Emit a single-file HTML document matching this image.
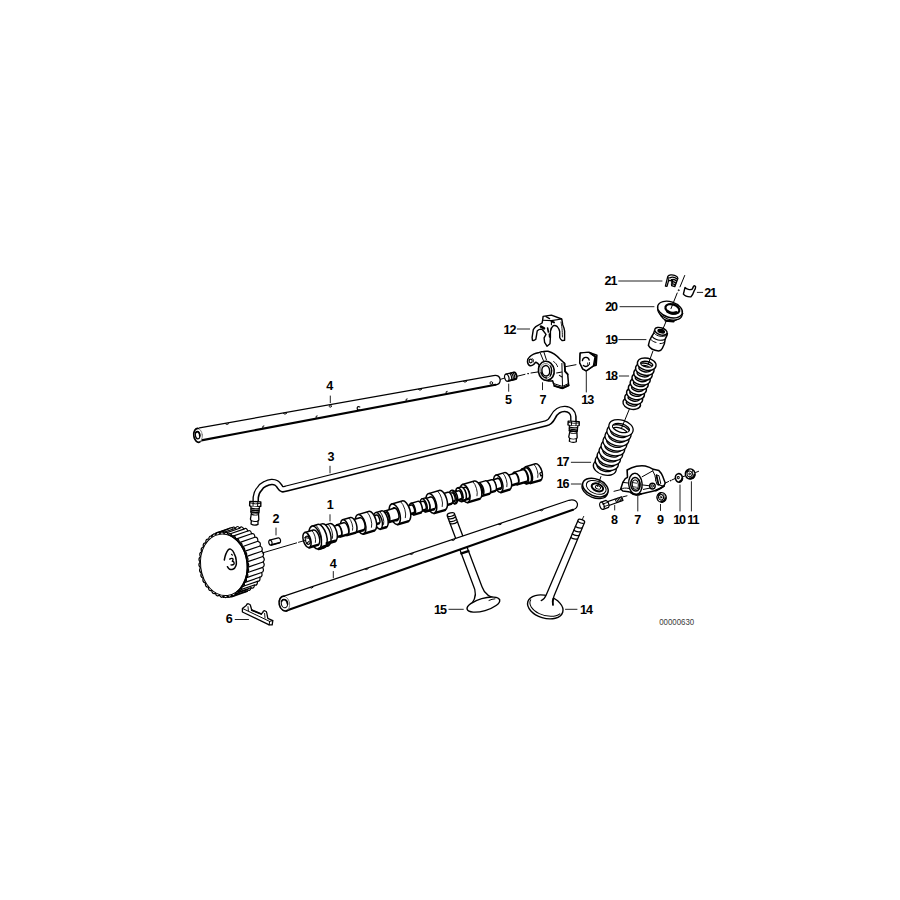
<!DOCTYPE html>
<html><head><meta charset="utf-8"><title>diagram</title>
<style>
html,body{margin:0;padding:0;background:#fff;}
svg{display:block;}
text{font-family:"Liberation Sans",sans-serif;font-weight:bold;font-size:12.6px;fill:#000;}
</style></head><body>
<svg width="900" height="900" viewBox="0 0 900 900" stroke="#000" fill="none" stroke-linecap="round" stroke-linejoin="round">
<rect x="0" y="0" width="900" height="900" fill="#fff" stroke="none"/>
<path d="M 199.0 427.7 L 493.5 375.6 Q 499.6 374.6 500.2 379.6 Q 500.4 384.4 495.5 384.8 L 200.0 440.6 Z" stroke-width="0" fill="#fff" stroke="none"/>
<path d="M 199.5 427.9 L 493.5 375.6 Q 499.6 374.6 500.2 379.6 Q 500.4 384.4 495.5 384.8" stroke-width="1.3" fill="none" />
<path d="M 495.5 384.8 L 200.0 440.6" stroke-width="2.1" fill="none" />
<ellipse cx="197.9" cy="435.3" rx="4.4" ry="7.0" transform="rotate(-6 197.9 435.3)" stroke-width="0.9" fill="#fff" stroke="#777"/>
<g transform="translate(197.9 435.3) rotate(-6)"><path d="M 1.2 -6.8 A 4.4 7 0 1 0 1.4 6.8" stroke-width="1.6"/></g>
<ellipse cx="197.6" cy="435.2" rx="2.2" ry="3.6" transform="rotate(-6 197.6 435.2)" stroke-width="1.2" fill="none" />
<g transform="translate(197.6 435.2) rotate(-6)"><path d="M -1.4 -2.8 A 2.2 3.6 0 0 1 2.1 1" stroke-width="1.7"/></g>
<path d="M 225.4 423.8 q 1.5 1.6 3.2 0" stroke-width="1.0" fill="none" />
<path d="M 283.4 413.5 q 1.5 1.6 3.2 0" stroke-width="1.0" fill="none" />
<path d="M 418.4 389.5 q 1.5 1.6 3.2 0" stroke-width="1.0" fill="none" />
<path d="M 463.4 381.5 q 1.5 1.6 3.2 0" stroke-width="1.0" fill="none" />
<ellipse cx="330.3" cy="406.2" rx="1.1" ry="1.1" transform="rotate(0 330.3 406.2)" stroke-width="0.8" fill="none" />
<path d="M 262.7 427.6 q -0.5 -2 1.2 -1.8" stroke-width="1.0" fill="none" />
<path d="M 316.0 417.6 q -0.5 -2 1.2 -1.8" stroke-width="1.0" fill="none" />
<path d="M 406.0 400.6 q -0.5 -2 1.2 -1.8" stroke-width="1.0" fill="none" />
<path d="M 446.0 393.1 q -0.5 -2 1.2 -1.8" stroke-width="1.0" fill="none" />
<path d="M 359.8 407.0 q -2.8 -1.2 -2.6 1.6 q 0.3 2 2.6 1.2" stroke-width="1.2" fill="none" />
<ellipse cx="491.3" cy="383.0" rx="1.3" ry="1.4" transform="rotate(0 491.3 383.0)" stroke-width="0.9" fill="none" />
<path d="M 255.7 502 L 255.8 497.5 C 256.5 493 257.5 491 259.2 489.4 C 261 486.5 263 485 265 484.1 C 267.5 482.8 269.5 482.2 271.6 482 C 273.8 481.9 275 482.2 276.3 483 C 278 484 278.8 485.4 279.7 486.6 C 280.6 488 281 489 282.4 489.3 C 283.6 489.6 285 489.1 286.6 488.6 L 546 423.4 C 550 422.4 551.5 420 553 417 C 554.5 414 556 412.2 558 411 C 560.5 409.3 562.8 408.9 565 409 C 567.5 409.1 569.6 409.9 571 411.3 C 572.8 413 573.2 414.6 573.4 416.5 L 573.5 423" stroke-width="6.6" stroke-linecap="butt"/>
<path d="M 255.7 502 L 255.8 497.5 C 256.5 493 257.5 491 259.2 489.4 C 261 486.5 263 485 265 484.1 C 267.5 482.8 269.5 482.2 271.6 482 C 273.8 481.9 275 482.2 276.3 483 C 278 484 278.8 485.4 279.7 486.6 C 280.6 488 281 489 282.4 489.3 C 283.6 489.6 285 489.1 286.6 488.6 L 546 423.4 C 550 422.4 551.5 420 553 417 C 554.5 414 556 412.2 558 411 C 560.5 409.3 562.8 408.9 565 409 C 567.5 409.1 569.6 409.9 571 411.3 C 572.8 413 573.2 414.6 573.4 416.5 L 573.5 423" stroke="#fff" stroke-width="3.7" stroke-linecap="butt" transform="translate(-0.1 -0.2)"/>
<g transform="translate(255.4 501.6) rotate(2.5) scale(1 0.96)">
<path d="M -5.6 0.0 L 5.4 0.0 L 5.6 4.6 Q 0.0 6.6 -5.6 4.6 Z" stroke-width="1.4" fill="#fff" />
<line x1="-2.2" y1="0.5" x2="-2.2" y2="5.0" stroke-width="1.0" />
<line x1="2.4" y1="0.5" x2="2.4" y2="5.0" stroke-width="1.0" />
<path d="M -5.4 1.6 Q 0.0 3.2 5.4 1.6" stroke-width="0.9" fill="none" />
<path d="M -4.2 5.4 L -4.0 11.6 L 4.0 11.6 L 4.2 5.4" stroke-width="1.2" fill="#fff" />
<path d="M -4.1 7.0 Q 0.0 8.4 4.1 7.0" stroke-width="1.3" fill="none" />
<path d="M -4.1 8.8 Q 0.0 10.2 4.1 8.8" stroke-width="1.3" fill="none" />
<path d="M -4.1 10.6 Q 0.0 12.0 4.1 10.6" stroke-width="1.3" fill="none" />
<path d="M -3.4 11.8 L -4.2 18.5 Q -4.0 19.5 -3.2 20.0 L -3.4 23.6 Q 0.0 25.6 3.6 23.6 L 3.4 20.0 Q 4.2 19.5 4.2 18.5 L 3.6 11.8 Z" stroke-width="1.3" fill="#fff" />
<path d="M -3.2 20.0 Q 0.0 21.4 3.4 20.0" stroke-width="1.0" fill="none" />
<path d="M -3.6 13.4 Q 0.0 14.8 3.6 13.4" stroke-width="1.0" fill="none" />
</g>
<g transform="translate(573.8 421.3) rotate(3) scale(1 0.86)">
<path d="M -5.6 0.0 L 5.4 0.0 L 5.6 4.6 Q 0.0 6.6 -5.6 4.6 Z" stroke-width="1.4" fill="#fff" />
<line x1="-2.2" y1="0.5" x2="-2.2" y2="5.0" stroke-width="1.0" />
<line x1="2.4" y1="0.5" x2="2.4" y2="5.0" stroke-width="1.0" />
<path d="M -5.4 1.6 Q 0.0 3.2 5.4 1.6" stroke-width="0.9" fill="none" />
<path d="M -4.2 5.4 L -4.0 11.6 L 4.0 11.6 L 4.2 5.4" stroke-width="1.2" fill="#fff" />
<path d="M -4.1 7.0 Q 0.0 8.4 4.1 7.0" stroke-width="1.3" fill="none" />
<path d="M -4.1 8.8 Q 0.0 10.2 4.1 8.8" stroke-width="1.3" fill="none" />
<path d="M -4.1 10.6 Q 0.0 12.0 4.1 10.6" stroke-width="1.3" fill="none" />
<path d="M -3.4 11.8 L -4.2 18.5 Q -4.0 19.5 -3.2 20.0 L -3.4 23.6 Q 0.0 25.6 3.6 23.6 L 3.4 20.0 Q 4.2 19.5 4.2 18.5 L 3.6 11.8 Z" stroke-width="1.3" fill="#fff" />
<path d="M -3.2 20.0 Q 0.0 21.4 3.4 20.0" stroke-width="1.0" fill="none" />
<path d="M -3.6 13.4 Q 0.0 14.8 3.6 13.4" stroke-width="1.0" fill="none" />
</g>
<path d="M 262.8 556.5 Q 265.6 559.2 263.1 562.0 Q 265.5 565.2 262.7 567.4 Q 264.6 571.1 261.6 572.5 Q 263.0 576.5 259.8 577.2 Q 260.7 581.5 257.4 581.4 Q 257.7 585.8 254.4 585.0 Q 254.2 589.3 251.0 587.7 Q 250.2 591.8 247.2 589.6 Q 245.9 593.4 243.2 590.6 Q 241.4 594.0 239.1 590.6 Q 236.8 593.5 235.0 589.7 Q 232.3 592.0 231.0 587.8 Q 228.0 589.4 227.3 585.1 Q 224.1 586.0 223.9 581.6 Q 220.6 581.8 221.0 577.5 Q 217.7 576.8 218.7 572.8 Q 215.5 571.4 217.0 567.6 Q 214.0 565.6 216.0 562.3 Q 213.2 559.6 215.7 556.8 Q 213.3 553.6 216.1 551.4 Q 214.2 547.7 217.2 546.3 Q 215.8 542.3 219.0 541.6 Q 218.1 537.3 221.4 537.4 Q 221.1 533.0 224.4 533.8 Q 224.6 529.5 227.8 531.1 Q 228.6 527.0 231.6 529.2 Q 232.9 525.4 235.6 528.2 Q 237.4 524.8 239.7 528.2 Q 242.0 525.3 243.8 529.1 Q 246.5 526.8 247.8 531.0 Q 250.8 529.4 251.5 533.7 Q 254.7 532.8 254.9 537.2 Q 258.2 537.0 257.8 541.3 Q 261.1 542.0 260.1 546.0 Q 263.3 547.4 261.8 551.2 Q 264.8 553.2 262.8 556.5 Z" stroke-width="1.2" fill="#fff" />
<path d="M 216.0 533.0 L 231.6 527.6 L 247.2 591.2 L 231.6 596.6 Z" stroke-width="0" fill="#fff" stroke="none"/>
<line x1="220.0" y1="533.6" x2="235.6" y2="528.2" stroke-width="1.2" />
<line x1="224.1" y1="533.6" x2="239.7" y2="528.2" stroke-width="1.2" />
<line x1="228.2" y1="534.5" x2="243.8" y2="529.1" stroke-width="1.2" />
<line x1="232.2" y1="536.4" x2="247.8" y2="531.0" stroke-width="1.2" />
<line x1="235.9" y1="539.1" x2="251.5" y2="533.7" stroke-width="1.2" />
<line x1="239.3" y1="542.6" x2="254.9" y2="537.2" stroke-width="1.2" />
<line x1="242.2" y1="546.7" x2="257.8" y2="541.3" stroke-width="1.2" />
<line x1="244.5" y1="551.4" x2="260.1" y2="546.0" stroke-width="1.2" />
<line x1="246.2" y1="556.6" x2="261.8" y2="551.2" stroke-width="1.2" />
<line x1="247.2" y1="561.9" x2="262.8" y2="556.5" stroke-width="1.2" />
<line x1="247.5" y1="567.4" x2="263.1" y2="562.0" stroke-width="1.2" />
<line x1="247.1" y1="572.8" x2="262.7" y2="567.4" stroke-width="1.2" />
<line x1="246.0" y1="577.9" x2="261.6" y2="572.5" stroke-width="1.2" />
<line x1="244.2" y1="582.6" x2="259.8" y2="577.2" stroke-width="1.2" />
<line x1="241.8" y1="586.8" x2="257.4" y2="581.4" stroke-width="1.2" />
<line x1="238.8" y1="590.4" x2="254.4" y2="585.0" stroke-width="1.2" />
<line x1="235.4" y1="593.1" x2="251.0" y2="587.7" stroke-width="1.2" />
<line x1="231.6" y1="595.0" x2="247.2" y2="589.6" stroke-width="1.2" />
<line x1="216.0" y1="533.0" x2="231.6" y2="527.6" stroke-width="1.3" />
<line x1="231.6" y1="596.6" x2="247.2" y2="591.2" stroke-width="1.8" />
<line x1="211.7" y1="535.4" x2="224.2" y2="531.0" stroke-width="1.5" />
<line x1="215.7" y1="533.4" x2="228.1" y2="529.1" stroke-width="1.5" />
<line x1="227.8" y1="597.2" x2="236.4" y2="594.2" stroke-width="1.6" />
<line x1="223.5" y1="597.2" x2="232.1" y2="594.3" stroke-width="1.6" />
<path d="M 247.2 561.9 Q 250.0 564.6 247.5 567.4 Q 249.9 570.6 247.1 572.8 Q 249.0 576.5 246.0 577.9 Q 247.4 581.9 244.2 582.6 Q 245.1 586.9 241.8 586.8 Q 242.1 591.2 238.8 590.4 Q 238.6 594.7 235.4 593.1 Q 234.6 597.2 231.6 595.0 Q 230.3 598.8 227.6 596.0 Q 225.8 599.4 223.5 596.0 Q 221.2 598.9 219.4 595.1 Q 216.7 597.4 215.4 593.2 Q 212.4 594.8 211.7 590.5 Q 208.5 591.4 208.3 587.0 Q 205.0 587.2 205.4 582.9 Q 202.1 582.2 203.1 578.2 Q 199.9 576.8 201.4 573.0 Q 198.4 571.0 200.4 567.7 Q 197.6 565.0 200.1 562.2 Q 197.7 559.0 200.5 556.8 Q 198.6 553.1 201.6 551.7 Q 200.2 547.7 203.4 547.0 Q 202.5 542.7 205.8 542.8 Q 205.5 538.4 208.8 539.2 Q 209.0 534.9 212.2 536.5 Q 213.0 532.4 216.0 534.6 Q 217.3 530.8 220.0 533.6 Q 221.8 530.2 224.1 533.6 Q 226.4 530.7 228.2 534.5 Q 230.9 532.2 232.2 536.4 Q 235.2 534.8 235.9 539.1 Q 239.1 538.2 239.3 542.6 Q 242.6 542.4 242.2 546.7 Q 245.5 547.4 244.5 551.4 Q 247.7 552.8 246.2 556.6 Q 249.2 558.6 247.2 561.9 Z" stroke-width="1.25" fill="#fff" />
<ellipse cx="223.8" cy="564.8" rx="23.2" ry="30.9" transform="rotate(-7.0 223.8 564.8)" stroke-width="1.0"/>
<path d="M 224.3 560 C 225 556 226.4 552 228.3 549.8 C 229 549 229.9 548.9 230.6 549.1 C 232.4 549.8 233.4 551.4 234.1 553.3 C 235.4 555.6 236.1 558 236.3 560.9 C 236.5 562.8 236.4 564.4 235.9 565.8 C 235.3 567.7 234.2 568.8 232.8 569.3 C 231.7 569.7 230.6 569.7 229.7 569.3 C 228.7 568.7 228 567.8 227.4 566.7" stroke-width="1.5" fill="none" />
<path d="M 229.7 559.1 C 230.8 558.4 232 558.2 232.8 558.7 C 233.4 559.6 233 560.6 232.3 561.3 C 233.3 561.5 234 562 234.1 562.7 C 234.3 563.5 234.1 564 233.7 564.4 C 232.9 565 231.9 565.1 231 564.9" stroke-width="1.4" fill="none" />
<path d="M 231.5 554.3 L 232.4 555.1" stroke-width="1.2" fill="none" />
<path d="M 229.9 535.2 L 231.0 535.7 L 232.1 536.3 L 233.2 537.0 L 234.3 537.8 L 235.4 538.6 L 236.4 539.5 L 237.4 540.4 L 238.3 541.5 L 239.3 542.5 L 240.1 543.6 L 241.0 544.8 L 241.8 546.1 L 242.5 547.3 L 243.2 548.7 L 243.9 550.0 L 244.5 551.4 L 245.0 552.8 L 245.5 554.3 L 246.0 555.8 L 246.4 557.3 L 246.7 558.8 L 247.0 560.4 L 247.2 561.9 L 247.4 563.5 L 247.5 565.0 L 247.5 566.6 L 247.5 568.2 L 247.4 569.7 L 247.3 571.3 L 247.1 572.8 L 246.9 574.3 L 246.6 575.8 L 246.2 577.2 L 245.8 578.6 L 245.3 580.0 L 244.8 581.4 L 244.2 582.7 L 243.5 583.9 L 242.9 585.2 L 242.1 586.3 L 241.4 587.4 L 240.5 588.5 L 239.7 589.5 L 238.8 590.4 L 237.8 591.3 L 236.9 592.1" stroke-width="1.6"/>
<g transform="translate(307 540) rotate(-16.4)">
<path d="M 230.4 -8.6 L 240.7 -8.6 A 4.02 8.55 0 0 1 240.7 8.6 L 230.4 8.6 Z" stroke-width="0" fill="#fff" stroke="none"/>
<path d="M 230.4 -8.6 L 240.7 -8.6 A 4.02 8.55 0 0 1 240.7 8.6" stroke-width="1.5" fill="none" />
<path d="M 240.7 8.6 L 230.4 8.6" stroke-width="2.4" fill="none" />
<path d="M 239.1 -8.3 A 4.02 8.55 0 0 1 239.1 5.1" stroke-width="0.8" fill="none" />
<ellipse cx="230.4" cy="0.0" rx="4.02" ry="8.55" stroke-width="1.5" fill="#fff"/>
<ellipse cx="230.8" cy="0.0" rx="2.58" ry="5.50" stroke-width="1.0"/>
<path d="M 228.3 -1.0 A 2.58 5.50 0 0 0 231.0 5.5" stroke-width="2.0" fill="none" />
<path d="M 229.8 -5.6 L 231.0 -5.6 A 2.63 5.60 0 0 1 231.0 5.6 L 229.8 5.6 Z" stroke-width="0" fill="#fff" stroke="none"/>
<path d="M 229.8 -5.6 L 231.0 -5.6 A 2.63 5.60 0 0 1 231.0 5.6" stroke-width="1.5" fill="none" />
<path d="M 231.0 5.6 L 229.8 5.6" stroke-width="2.4" fill="none" />
<ellipse cx="229.8" cy="0.0" rx="2.63" ry="5.60" stroke-width="1.5" fill="#fff"/>
<path d="M 226.6 -7.5 L 229.8 -7.5 A 3.62 7.70 0 0 1 229.8 7.9 L 226.6 7.9 Z" stroke-width="0" fill="#fff" stroke="none"/>
<path d="M 226.6 -7.5 L 229.8 -7.5 A 3.62 7.70 0 0 1 229.8 7.9" stroke-width="1.5" fill="none" />
<path d="M 229.8 7.9 L 226.6 7.9" stroke-width="2.4" fill="none" />
<ellipse cx="226.6" cy="0.2" rx="3.62" ry="7.70" stroke-width="1.5" fill="#fff"/>
<path d="M 217.5 -6.5 L 226.6 -6.5 A 2.96 6.30 0 0 1 226.6 6.1 L 217.5 6.1 Z" stroke-width="0" fill="#fff" stroke="none"/>
<path d="M 217.5 -6.5 L 226.6 -6.5 A 2.96 6.30 0 0 1 226.6 6.1" stroke-width="1.5" fill="none" />
<path d="M 226.6 6.1 L 217.5 6.1" stroke-width="2.4" fill="none" />
<ellipse cx="217.5" cy="-0.2" rx="2.96" ry="6.30" stroke-width="1.5" fill="#fff"/>
<path d="M 208.4 -5.4 L 217.5 -5.4 A 2.54 5.40 0 0 1 217.5 5.4 L 208.4 5.4 Z" stroke-width="0" fill="#fff" stroke="none"/>
<path d="M 208.4 -5.4 L 217.5 -5.4 A 2.54 5.40 0 0 1 217.5 5.4" stroke-width="1.5" fill="none" />
<path d="M 217.5 5.4 L 208.4 5.4" stroke-width="2.4" fill="none" />
<ellipse cx="208.4" cy="0.0" rx="2.54" ry="5.40" stroke-width="1.5" fill="#fff"/>
<path d="M 199.4 -8.9 L 208.4 -8.9 A 4.18 8.90 0 0 1 208.4 8.9 L 199.4 8.9 Z" stroke-width="0" fill="#fff" stroke="none"/>
<path d="M 199.4 -8.9 L 208.4 -8.9 A 4.18 8.90 0 0 1 208.4 8.9" stroke-width="1.5" fill="none" />
<path d="M 208.4 8.9 L 199.4 8.9" stroke-width="2.4" fill="none" />
<path d="M 206.8 -8.6 A 4.18 8.90 0 0 1 206.8 5.3" stroke-width="0.8" fill="none" />
<ellipse cx="199.4" cy="0.0" rx="4.18" ry="8.90" stroke-width="1.5" fill="#fff"/>
<ellipse cx="199.8" cy="0.0" rx="2.68" ry="5.70" stroke-width="1.0"/>
<path d="M 197.3 -1.0 A 2.68 5.70 0 0 0 200.0 5.7" stroke-width="2.0" fill="none" />
<path d="M 194.0 -5.2 L 200.0 -5.2 A 2.44 5.20 0 0 1 200.0 5.2 L 194.0 5.2 Z" stroke-width="0" fill="#fff" stroke="none"/>
<path d="M 194.0 -5.2 L 200.0 -5.2 A 2.44 5.20 0 0 1 200.0 5.2" stroke-width="1.5" fill="none" />
<path d="M 200.0 5.2 L 194.0 5.2" stroke-width="2.4" fill="none" />
<ellipse cx="194.0" cy="0.0" rx="2.44" ry="5.20" stroke-width="1.5" fill="#fff"/>
<path d="M 187.7 -5.7 L 194.0 -5.7 A 2.77 5.90 0 0 1 194.0 6.1 L 187.7 6.1 Z" stroke-width="0" fill="#fff" stroke="none"/>
<path d="M 187.7 -5.7 L 194.0 -5.7 A 2.77 5.90 0 0 1 194.0 6.1" stroke-width="1.5" fill="none" />
<path d="M 194.0 6.1 L 187.7 6.1" stroke-width="2.4" fill="none" />
<ellipse cx="187.7" cy="0.2" rx="2.77" ry="5.90" stroke-width="1.5" fill="#fff"/>
<path d="M 180.5 -6.4 L 187.7 -6.4 A 3.20 6.80 0 0 1 187.7 7.2 L 180.5 7.2 Z" stroke-width="0" fill="#fff" stroke="none"/>
<path d="M 180.5 -6.4 L 187.7 -6.4 A 3.20 6.80 0 0 1 187.7 7.2" stroke-width="1.5" fill="none" />
<path d="M 187.7 7.2 L 180.5 7.2" stroke-width="2.4" fill="none" />
<ellipse cx="180.5" cy="0.4" rx="3.20" ry="6.80" stroke-width="1.5" fill="#fff"/>
<path d="M 177.0 -4.4 L 180.5 -4.4 A 2.07 4.40 0 0 1 180.5 4.4 L 177.0 4.4 Z" stroke-width="0" fill="#fff" stroke="none"/>
<path d="M 177.0 -4.4 L 180.5 -4.4 A 2.07 4.40 0 0 1 180.5 4.4" stroke-width="1.5" fill="none" />
<path d="M 180.5 4.4 L 177.0 4.4" stroke-width="2.4" fill="none" />
<ellipse cx="177.0" cy="0.0" rx="2.07" ry="4.40" stroke-width="1.5" fill="#fff"/>
<path d="M 164.8 -9.3 L 177.2 -9.3 A 4.37 9.30 0 0 1 177.2 9.3 L 164.8 9.3 Z" stroke-width="0" fill="#fff" stroke="none"/>
<path d="M 164.8 -9.3 L 177.2 -9.3 A 4.37 9.30 0 0 1 177.2 9.3" stroke-width="1.5" fill="none" />
<path d="M 177.2 9.3 L 164.8 9.3" stroke-width="2.4" fill="none" />
<path d="M 175.6 -9.0 A 4.37 9.30 0 0 1 175.6 5.6" stroke-width="0.8" fill="none" />
<ellipse cx="164.8" cy="0.0" rx="4.37" ry="9.30" stroke-width="1.5" fill="#fff"/>
<ellipse cx="165.2" cy="0.0" rx="2.82" ry="6.00" stroke-width="1.0"/>
<path d="M 162.5 -1.0 A 2.82 6.00 0 0 0 165.4 6.0" stroke-width="2.0" fill="none" />
<path d="M 162.5 -6.0 L 166.0 -6.0 A 2.82 6.00 0 0 1 166.0 6.0 L 162.5 6.0 Z" stroke-width="0" fill="#fff" stroke="none"/>
<path d="M 162.5 -6.0 L 166.0 -6.0 A 2.82 6.00 0 0 1 166.0 6.0" stroke-width="1.5" fill="none" />
<path d="M 166.0 6.0 L 162.5 6.0" stroke-width="2.4" fill="none" />
<ellipse cx="162.5" cy="0.0" rx="2.82" ry="6.00" stroke-width="1.5" fill="#fff"/>
<path d="M 159.0 -7.4 L 162.5 -7.4 A 3.24 6.90 0 0 1 162.5 6.4 L 159.0 6.4 Z" stroke-width="0" fill="#fff" stroke="none"/>
<path d="M 159.0 -7.4 L 162.5 -7.4 A 3.24 6.90 0 0 1 162.5 6.4" stroke-width="1.5" fill="none" />
<path d="M 162.5 6.4 L 159.0 6.4" stroke-width="2.4" fill="none" />
<ellipse cx="159.0" cy="-0.5" rx="3.24" ry="6.90" stroke-width="1.5" fill="#fff"/>
<path d="M 157.1 -5.7 L 161.9 3.3" stroke-width="1.3" fill="none" />
<path d="M 153.4 -4.4 L 159.0 -4.4 A 2.07 4.40 0 0 1 159.0 4.4 L 153.4 4.4 Z" stroke-width="0" fill="#fff" stroke="none"/>
<path d="M 153.4 -4.4 L 159.0 -4.4 A 2.07 4.40 0 0 1 159.0 4.4" stroke-width="1.5" fill="none" />
<path d="M 159.0 4.4 L 153.4 4.4" stroke-width="2.4" fill="none" />
<ellipse cx="153.4" cy="0.0" rx="2.07" ry="4.40" stroke-width="1.5" fill="#fff"/>
<path d="M 152.0 -6.7 L 153.4 -6.7 A 3.15 6.70 0 0 1 153.4 6.7 L 152.0 6.7 Z" stroke-width="0" fill="#fff" stroke="none"/>
<path d="M 152.0 -6.7 L 153.4 -6.7 A 3.15 6.70 0 0 1 153.4 6.7" stroke-width="1.5" fill="none" />
<path d="M 153.4 6.7 L 152.0 6.7" stroke-width="2.4" fill="none" />
<ellipse cx="152.0" cy="0.0" rx="3.15" ry="6.70" stroke-width="1.5" fill="#fff"/>
<path d="M 148.5 -4.4 L 152.0 -4.4 A 2.07 4.40 0 0 1 152.0 4.4 L 148.5 4.4 Z" stroke-width="0" fill="#fff" stroke="none"/>
<path d="M 148.5 -4.4 L 152.0 -4.4 A 2.07 4.40 0 0 1 152.0 4.4" stroke-width="1.5" fill="none" />
<path d="M 152.0 4.4 L 148.5 4.4" stroke-width="2.4" fill="none" />
<ellipse cx="148.5" cy="0.0" rx="2.07" ry="4.40" stroke-width="1.5" fill="#fff"/>
<path d="M 140.8 -6.0 L 148.5 -6.0 A 2.82 6.00 0 0 1 148.5 6.0 L 140.8 6.0 Z" stroke-width="0" fill="#fff" stroke="none"/>
<path d="M 140.8 -6.0 L 148.5 -6.0 A 2.82 6.00 0 0 1 148.5 6.0" stroke-width="1.5" fill="none" />
<path d="M 148.5 6.0 L 140.8 6.0" stroke-width="2.4" fill="none" />
<ellipse cx="140.8" cy="0.0" rx="2.82" ry="6.00" stroke-width="1.5" fill="#fff"/>
<path d="M 129.6 -10.2 L 140.8 -10.2 A 4.79 10.20 0 0 1 140.8 10.2 L 129.6 10.2 Z" stroke-width="0" fill="#fff" stroke="none"/>
<path d="M 129.6 -10.2 L 140.8 -10.2 A 4.79 10.20 0 0 1 140.8 10.2" stroke-width="1.5" fill="none" />
<path d="M 140.8 10.2 L 129.6 10.2" stroke-width="2.4" fill="none" />
<path d="M 139.2 -9.9 A 4.79 10.20 0 0 1 139.2 6.1" stroke-width="0.8" fill="none" />
<ellipse cx="129.6" cy="0.0" rx="4.79" ry="10.20" stroke-width="1.5" fill="#fff"/>
<ellipse cx="130.0" cy="0.0" rx="3.05" ry="6.50" stroke-width="1.0"/>
<path d="M 127.1 -1.0 A 3.05 6.50 0 0 0 130.2 6.5" stroke-width="2.0" fill="none" />
<path d="M 124.6 -6.3 L 130.5 -6.3 A 2.96 6.30 0 0 1 130.5 6.3 L 124.6 6.3 Z" stroke-width="0" fill="#fff" stroke="none"/>
<path d="M 124.6 -6.3 L 130.5 -6.3 A 2.96 6.30 0 0 1 130.5 6.3" stroke-width="1.5" fill="none" />
<path d="M 130.5 6.3 L 124.6 6.3" stroke-width="2.4" fill="none" />
<ellipse cx="124.6" cy="0.0" rx="2.96" ry="6.30" stroke-width="1.5" fill="#fff"/>
<path d="M 121.8 -7.0 L 124.6 -7.0 A 3.10 6.60 0 0 1 124.6 6.2 L 121.8 6.2 Z" stroke-width="0" fill="#fff" stroke="none"/>
<path d="M 121.8 -7.0 L 124.6 -7.0 A 3.10 6.60 0 0 1 124.6 6.2" stroke-width="1.5" fill="none" />
<path d="M 124.6 6.2 L 121.8 6.2" stroke-width="2.4" fill="none" />
<ellipse cx="121.8" cy="-0.4" rx="3.10" ry="6.60" stroke-width="1.5" fill="#fff"/>
<path d="M 117.0 -4.4 L 121.8 -4.4 A 2.07 4.40 0 0 1 121.8 4.4 L 117.0 4.4 Z" stroke-width="0" fill="#fff" stroke="none"/>
<path d="M 117.0 -4.4 L 121.8 -4.4 A 2.07 4.40 0 0 1 121.8 4.4" stroke-width="1.5" fill="none" />
<path d="M 121.8 4.4 L 117.0 4.4" stroke-width="2.4" fill="none" />
<ellipse cx="117.0" cy="0.0" rx="2.07" ry="4.40" stroke-width="1.5" fill="#fff"/>
<path d="M 109.8 -5.8 L 117.0 -5.8 A 2.73 5.80 0 0 1 117.0 5.8 L 109.8 5.8 Z" stroke-width="0" fill="#fff" stroke="none"/>
<path d="M 109.8 -5.8 L 117.0 -5.8 A 2.73 5.80 0 0 1 117.0 5.8" stroke-width="1.5" fill="none" />
<path d="M 117.0 5.8 L 109.8 5.8" stroke-width="2.4" fill="none" />
<ellipse cx="109.8" cy="0.0" rx="2.73" ry="5.80" stroke-width="1.5" fill="#fff"/>
<path d="M 102.3 -4.2 L 109.8 -4.2 A 1.97 4.20 0 0 1 109.8 4.2 L 102.3 4.2 Z" stroke-width="0" fill="#fff" stroke="none"/>
<path d="M 102.3 -4.2 L 109.8 -4.2 A 1.97 4.20 0 0 1 109.8 4.2" stroke-width="1.5" fill="none" />
<path d="M 109.8 4.2 L 102.3 4.2" stroke-width="2.4" fill="none" />
<ellipse cx="102.3" cy="0.0" rx="1.97" ry="4.20" stroke-width="1.5" fill="#fff"/>
<path d="M 91.5 -10.6 L 102.3 -10.6 A 4.98 10.60 0 0 1 102.3 10.6 L 91.5 10.6 Z" stroke-width="0" fill="#fff" stroke="none"/>
<path d="M 91.5 -10.6 L 102.3 -10.6 A 4.98 10.60 0 0 1 102.3 10.6" stroke-width="1.5" fill="none" />
<path d="M 102.3 10.6 L 91.5 10.6" stroke-width="2.4" fill="none" />
<path d="M 100.7 -10.3 A 4.98 10.60 0 0 1 100.7 6.4" stroke-width="0.8" fill="none" />
<ellipse cx="91.5" cy="0.0" rx="4.98" ry="10.60" stroke-width="1.5" fill="#fff"/>
<ellipse cx="91.9" cy="0.0" rx="3.15" ry="6.70" stroke-width="1.0"/>
<path d="M 88.9 -1.0 A 3.15 6.70 0 0 0 92.1 6.7" stroke-width="2.0" fill="none" />
<path d="M 83.0 -5.9 L 92.5 -5.9 A 2.77 5.90 0 0 1 92.5 5.9 L 83.0 5.9 Z" stroke-width="0" fill="#fff" stroke="none"/>
<path d="M 83.0 -5.9 L 92.5 -5.9 A 2.77 5.90 0 0 1 92.5 5.9" stroke-width="1.5" fill="none" />
<path d="M 92.5 5.9 L 83.0 5.9" stroke-width="2.4" fill="none" />
<ellipse cx="83.0" cy="0.0" rx="2.77" ry="5.90" stroke-width="1.5" fill="#fff"/>
<path d="M 79.5 -4.4 L 83.0 -4.4 A 2.07 4.40 0 0 1 83.0 4.4 L 79.5 4.4 Z" stroke-width="0" fill="#fff" stroke="none"/>
<path d="M 79.5 -4.4 L 83.0 -4.4 A 2.07 4.40 0 0 1 83.0 4.4" stroke-width="1.5" fill="none" />
<path d="M 83.0 4.4 L 79.5 4.4" stroke-width="2.4" fill="none" />
<ellipse cx="79.5" cy="0.0" rx="2.07" ry="4.40" stroke-width="1.5" fill="#fff"/>
<path d="M 73.5 -6.9 L 79.5 -6.9 A 3.99 8.50 0 0 1 79.5 10.1 L 73.5 10.1 Z" stroke-width="0" fill="#fff" stroke="none"/>
<path d="M 73.5 -6.9 L 79.5 -6.9 A 3.99 8.50 0 0 1 79.5 10.1" stroke-width="1.5" fill="none" />
<path d="M 79.5 10.1 L 73.5 10.1" stroke-width="2.4" fill="none" />
<path d="M 77.9 -6.6 A 3.99 8.50 0 0 1 77.9 6.7" stroke-width="0.8" fill="none" />
<ellipse cx="73.5" cy="1.6" rx="3.99" ry="8.50" stroke-width="1.5" fill="#fff"/>
<path d="M 67.0 -4.4 L 73.5 -4.4 A 2.07 4.40 0 0 1 73.5 4.4 L 67.0 4.4 Z" stroke-width="0" fill="#fff" stroke="none"/>
<path d="M 67.0 -4.4 L 73.5 -4.4 A 2.07 4.40 0 0 1 73.5 4.4" stroke-width="1.5" fill="none" />
<path d="M 73.5 4.4 L 67.0 4.4" stroke-width="2.4" fill="none" />
<ellipse cx="67.0" cy="0.0" rx="2.07" ry="4.40" stroke-width="1.5" fill="#fff"/>
<path d="M 55.9 -10.0 L 67.1 -10.0 A 4.70 10.00 0 0 1 67.1 10.0 L 55.9 10.0 Z" stroke-width="0" fill="#fff" stroke="none"/>
<path d="M 55.9 -10.0 L 67.1 -10.0 A 4.70 10.00 0 0 1 67.1 10.0" stroke-width="1.5" fill="none" />
<path d="M 67.1 10.0 L 55.9 10.0" stroke-width="2.4" fill="none" />
<path d="M 65.5 -9.7 A 4.70 10.00 0 0 1 65.5 6.0" stroke-width="0.8" fill="none" />
<ellipse cx="55.9" cy="0.0" rx="4.70" ry="10.00" stroke-width="1.5" fill="#fff"/>
<ellipse cx="56.3" cy="0.0" rx="3.05" ry="6.50" stroke-width="1.0"/>
<path d="M 53.4 -1.0 A 3.05 6.50 0 0 0 56.5 6.5" stroke-width="2.0" fill="none" />
<path d="M 48.0 -6.4 L 57.0 -6.4 A 3.01 6.40 0 0 1 57.0 6.4 L 48.0 6.4 Z" stroke-width="0" fill="#fff" stroke="none"/>
<path d="M 48.0 -6.4 L 57.0 -6.4 A 3.01 6.40 0 0 1 57.0 6.4" stroke-width="1.5" fill="none" />
<path d="M 57.0 6.4 L 48.0 6.4" stroke-width="2.4" fill="none" />
<ellipse cx="48.0" cy="0.0" rx="3.01" ry="6.40" stroke-width="1.5" fill="#fff"/>
<path d="M 39.8 -9.3 L 48.1 -9.3 A 3.76 8.00 0 0 1 48.1 6.7 L 39.8 6.7 Z" stroke-width="0" fill="#fff" stroke="none"/>
<path d="M 39.8 -9.3 L 48.1 -9.3 A 3.76 8.00 0 0 1 48.1 6.7" stroke-width="1.5" fill="none" />
<path d="M 48.1 6.7 L 39.8 6.7" stroke-width="2.4" fill="none" />
<path d="M 46.5 -9.1 A 3.76 8.00 0 0 1 46.5 3.5" stroke-width="0.8" fill="none" />
<ellipse cx="39.8" cy="-1.3" rx="3.76" ry="8.00" stroke-width="1.5" fill="#fff"/>
<path d="M 33.0 -6.2 L 40.0 -6.2 A 2.91 6.20 0 0 1 40.0 6.2 L 33.0 6.2 Z" stroke-width="0" fill="#fff" stroke="none"/>
<path d="M 33.0 -6.2 L 40.0 -6.2 A 2.91 6.20 0 0 1 40.0 6.2" stroke-width="1.5" fill="none" />
<path d="M 40.0 6.2 L 33.0 6.2" stroke-width="2.4" fill="none" />
<ellipse cx="33.0" cy="0.0" rx="2.91" ry="6.20" stroke-width="1.5" fill="#fff"/>
<path d="M 26.5 -5.6 L 33.0 -5.6 A 2.63 5.60 0 0 1 33.0 5.6 L 26.5 5.6 Z" stroke-width="0" fill="#fff" stroke="none"/>
<path d="M 26.5 -5.6 L 33.0 -5.6 A 2.63 5.60 0 0 1 33.0 5.6" stroke-width="1.5" fill="none" />
<path d="M 33.0 5.6 L 26.5 5.6" stroke-width="2.4" fill="none" />
<ellipse cx="26.5" cy="0.0" rx="2.63" ry="5.60" stroke-width="1.5" fill="#fff"/>
<path d="M 17.0 -9.3 L 26.5 -9.3 A 4.37 9.30 0 0 1 26.5 9.3 L 17.0 9.3 Z" stroke-width="0" fill="#fff" stroke="none"/>
<path d="M 17.0 -9.3 L 26.5 -9.3 A 4.37 9.30 0 0 1 26.5 9.3" stroke-width="1.5" fill="none" />
<path d="M 26.5 9.3 L 17.0 9.3" stroke-width="2.4" fill="none" />
<path d="M 24.9 -9.0 A 4.37 9.30 0 0 1 24.9 5.6" stroke-width="0.8" fill="none" />
<ellipse cx="17.0" cy="0.0" rx="4.37" ry="9.30" stroke-width="1.5" fill="#fff"/>
<path d="M 13.0 -11.2 L 19.0 -11.2 A 5.26 11.20 0 0 1 19.0 11.2 L 13.0 11.2 Z" stroke-width="0" fill="#fff" stroke="none"/>
<path d="M 13.0 -11.2 L 19.0 -11.2 A 5.26 11.20 0 0 1 19.0 11.2" stroke-width="1.5" fill="none" />
<path d="M 19.0 11.2 L 13.0 11.2" stroke-width="2.4" fill="none" />
<path d="M 17.4 -10.9 A 5.26 11.20 0 0 1 17.4 6.7" stroke-width="0.8" fill="none" />
<ellipse cx="13.0" cy="0.0" rx="5.26" ry="11.20" stroke-width="1.5" fill="#fff"/>
<path d="M 8.6 -11.9 L 14.5 -11.9 A 5.59 11.90 0 0 1 14.5 11.9 L 8.6 11.9 Z" stroke-width="0" fill="#fff" stroke="none"/>
<path d="M 8.6 -11.9 L 14.5 -11.9 A 5.59 11.90 0 0 1 14.5 11.9" stroke-width="1.5" fill="none" />
<path d="M 14.5 11.9 L 8.6 11.9" stroke-width="2.4" fill="none" />
<path d="M 12.9 -11.5 A 5.59 11.90 0 0 1 12.9 7.1" stroke-width="0.8" fill="none" />
<ellipse cx="8.6" cy="0.0" rx="5.59" ry="11.90" stroke-width="1.5" fill="#fff"/>
<path d="M 0.0 -7.8 L 9.0 -7.8 A 3.67 7.80 0 0 1 9.0 7.8 L 0.0 7.8 Z" stroke-width="0" fill="#fff" stroke="none"/>
<path d="M 0.0 -7.8 L 9.0 -7.8 A 3.67 7.80 0 0 1 9.0 7.8" stroke-width="1.5" fill="none" />
<path d="M 9.0 7.8 L 0.0 7.8" stroke-width="2.4" fill="none" />
<path d="M 7.4 -7.6 A 3.67 7.80 0 0 1 7.4 4.7" stroke-width="0.8" fill="none" />
<ellipse cx="0.0" cy="0.0" rx="3.67" ry="7.80" stroke-width="1.5" fill="#fff"/>
<path d="M 244.6 1.0 L 242.2 1.6 L 242.4 4.6 L 244.0 4.4" stroke-width="1.2" fill="none" />
<ellipse cx="0.6" cy="0.4" rx="2.2" ry="4.2" stroke-width="1.1"/>
<path d="M -1.4 -3 L 1.8 -1.2 M -1.6 3.4 L 1.6 1.8 M 2.6 -5.6 L 2.6 -2.2" stroke-width="1.0" fill="none" />
<path d="M 9 11.7 L 13 11.7 M 13.5 10.9 L 18 10.9" stroke-width="2.6" fill="none" />
<path d="M 18 8.7 L 27 8.7" stroke-width="2.4" fill="none" />
</g>
<path d="M 447.3 516 L 474.8 589.6 C 476.6 596 473.5 603 467.4 608.6 L 499.6 599.6 C 490.5 598 484.2 593.6 482 586.7 L 454.6 514.2 Z" stroke-width="0" fill="#fff" stroke="none"/>
<path d="M 447.3 516 L 474.8 589.6 C 476.6 596 473.5 603 467.4 608.6" stroke-width="1.3" fill="none" />
<path d="M 499.6 599.6 C 490.5 598 484.2 593.6 482 586.7 L 454.6 514.2" stroke-width="1.3" fill="none" />
<ellipse cx="450.9" cy="514.6" rx="3.8" ry="1.7" transform="rotate(-14 450.9 514.6)" stroke-width="1.2" fill="#fff" />
<path d="M 448.4 518.6 q 3.6 1.2 7.4 -1.8" stroke-width="1.2" fill="none" />
<path d="M 449.4 521.2 q 3.6 1.2 7.4 -1.8" stroke-width="1.2" fill="none" />
<path d="M 450.3 523.6 q 3.6 1.2 7.4 -1.8" stroke-width="1.2" fill="none" />
<path d="M 461.4 553.4 L 468.4 551.2" stroke-width="2.4" fill="none" />
<ellipse cx="483.4" cy="604.6" rx="16.9" ry="6.2" transform="rotate(-16 483.4 604.6)" stroke-width="1.4" fill="#fff" />
<path d="M 489 600.4 q 3 -1.4 6 -1.6" stroke-width="1.0" fill="none" />
<path d="M 284.0 596.1 L 569.0 500.3 Q 576.0 499.0 577.5 504.0 Q 578.0 508.0 573.0 509.8 L 286.0 610.7 Z" stroke-width="0" fill="#fff" stroke="none"/>
<path d="M 284.0 596.1 L 569.0 500.3 Q 575.5 498.8 577.4 503.5 Q 578.0 508.0 573.0 509.8" stroke-width="1.2" fill="none" />
<path d="M 573.0 509.8 L 286.0 610.7" stroke-width="2.2" fill="none" />
<ellipse cx="284.3" cy="603.6" rx="5.3" ry="7.5" transform="rotate(-12 284.3 603.6)" stroke-width="0.9" fill="#fff" stroke="#777"/>
<g transform="translate(284.3 603.6) rotate(-12)"><path d="M 1.6 -7.2 A 5.3 7.5 0 1 0 1.8 7.2" stroke-width="1.6"/></g>
<ellipse cx="284.4" cy="603.6" rx="3.1" ry="4.2" transform="rotate(-12 284.4 603.6)" stroke-width="1.1" fill="none" />
<g transform="translate(284.4 603.6) rotate(-12)"><path d="M -2.4 -2.6 A 3.1 4.2 0 0 1 3.0 1" stroke-width="1.7"/></g>
<path d="M 310.1 587.7 q 1.5 1.4 3.2 -0.6" stroke-width="1.0" fill="none" />
<path d="M 365.1 569.2 q 1.5 1.4 3.2 -0.6" stroke-width="1.0" fill="none" />
<path d="M 410.1 554.1 q 1.5 1.4 3.2 -0.6" stroke-width="1.0" fill="none" />
<path d="M 451.7 540.1 q 1.5 1.4 3.2 -0.6" stroke-width="1.0" fill="none" />
<path d="M 498.4 524.4 q 1.5 1.4 3.2 -0.6" stroke-width="1.0" fill="none" />
<path d="M 540.1 510.4 q 1.5 1.4 3.2 -0.6" stroke-width="1.0" fill="none" />
<path d="M 577.8 521 L 546.2 595 C 545 598 543.6 599.4 541.4 600 L 552.8 604 C 552.4 600.5 552.8 598.6 554 596 L 584.5 522.6 Z" stroke-width="0" fill="#fff" stroke="none"/>
<ellipse cx="545.3" cy="606.9" rx="18.2" ry="11.2" transform="rotate(17 545.3 606.9)" stroke-width="1.4" fill="#fff" />
<g transform="translate(546.0 606.0) rotate(17)"><path d="M -16.4 -1.5 A 16.6 9.6 0 0 0 15.5 3.4" stroke-width="1.0"/></g>
<path d="M 577.8 521 L 546.2 595 C 545 598 543.6 599.4 541.4 600 L 552.8 604 C 552.4 600.5 552.8 598.6 554 596 L 584.5 522.6 Z" stroke-width="0" fill="#fff" stroke="none"/>
<path d="M 577.8 521 L 546.2 595 C 545 598 543.6 599.6 541.2 600.6" stroke-width="1.3" fill="none" />
<path d="M 584.5 522.6 L 554 596 C 553 598.6 552.4 600.5 552.8 604.4" stroke-width="1.3" fill="none" />
<path d="M 553.4 598.5 q -1.4 3 -0.4 6.4" stroke-width="1.8" fill="none" />
<ellipse cx="581.3" cy="521.3" rx="3.5" ry="1.8" transform="rotate(18 581.3 521.3)" stroke-width="1.2" fill="#fff" />
<path d="M 575.4 526.5 q 3 2.2 6.6 1.4" stroke-width="1.3" fill="none" />
<path d="M 573.8 530.2 q 3 2.2 6.6 1.4" stroke-width="1.3" fill="none" />
<path d="M 572.3 534.0 q 3 2.2 6.6 1.4" stroke-width="1.3" fill="none" />
<path d="M 570.7 537.6 q 3 2.2 6.6 1.4" stroke-width="1.3" fill="none" />
<line x1="583.7" y1="516.4" x2="582.2" y2="519.6" stroke-width="0.9" />
<ellipse cx="594.8" cy="489.4" rx="13.4" ry="8.4" transform="rotate(22 594.8 489.4)" stroke-width="1.3" fill="#fff" />
<ellipse cx="595.4" cy="487.6" rx="13.4" ry="8.4" transform="rotate(22 595.4 487.6)" stroke-width="1.5" fill="#fff" />
<ellipse cx="596.2" cy="487.4" rx="10.4" ry="6.2" transform="rotate(22 596.2 487.4)" stroke-width="1.0" fill="none" />
<ellipse cx="597.4" cy="487.4" rx="6.0" ry="3.6" transform="rotate(22 597.4 487.4)" stroke-width="2.0" fill="none" />
<ellipse cx="598.0" cy="487.4" rx="2.8" ry="1.6" transform="rotate(22 598.0 487.4)" stroke-width="0.9" fill="none" />
<ellipse cx="604.8" cy="467.4" rx="9.9" ry="5.7" transform="rotate(16 604.8 467.4)" stroke-width="5.0" fill="#fff" />
<ellipse cx="604.8" cy="467.4" rx="9.9" ry="5.7" transform="rotate(16 604.8 467.4)" stroke-width="2.4" fill="none" stroke="#fff"/>
<ellipse cx="606.8" cy="462.5" rx="10.0" ry="5.8" transform="rotate(16 606.8 462.5)" stroke-width="5.0" fill="#fff" />
<ellipse cx="606.8" cy="462.5" rx="10.0" ry="5.8" transform="rotate(16 606.8 462.5)" stroke-width="2.4" fill="none" stroke="#fff"/>
<ellipse cx="608.8" cy="457.5" rx="10.1" ry="5.8" transform="rotate(16 608.8 457.5)" stroke-width="5.0" fill="#fff" />
<ellipse cx="608.8" cy="457.5" rx="10.1" ry="5.8" transform="rotate(16 608.8 457.5)" stroke-width="2.4" fill="none" stroke="#fff"/>
<ellipse cx="610.9" cy="452.6" rx="10.2" ry="5.9" transform="rotate(16 610.9 452.6)" stroke-width="5.0" fill="#fff" />
<ellipse cx="610.9" cy="452.6" rx="10.2" ry="5.9" transform="rotate(16 610.9 452.6)" stroke-width="2.4" fill="none" stroke="#fff"/>
<ellipse cx="612.9" cy="447.7" rx="10.2" ry="5.9" transform="rotate(16 612.9 447.7)" stroke-width="5.0" fill="#fff" />
<ellipse cx="612.9" cy="447.7" rx="10.2" ry="5.9" transform="rotate(16 612.9 447.7)" stroke-width="2.4" fill="none" stroke="#fff"/>
<ellipse cx="614.9" cy="442.8" rx="10.3" ry="6.0" transform="rotate(16 614.9 442.8)" stroke-width="5.0" fill="#fff" />
<ellipse cx="614.9" cy="442.8" rx="10.3" ry="6.0" transform="rotate(16 614.9 442.8)" stroke-width="2.4" fill="none" stroke="#fff"/>
<ellipse cx="617.0" cy="437.9" rx="10.4" ry="6.0" transform="rotate(16 617.0 437.9)" stroke-width="5.0" fill="#fff" />
<ellipse cx="617.0" cy="437.9" rx="10.4" ry="6.0" transform="rotate(16 617.0 437.9)" stroke-width="2.4" fill="none" stroke="#fff"/>
<ellipse cx="619.0" cy="432.9" rx="10.5" ry="6.1" transform="rotate(16 619.0 432.9)" stroke-width="5.0" fill="#fff" />
<ellipse cx="619.0" cy="432.9" rx="10.5" ry="6.1" transform="rotate(16 619.0 432.9)" stroke-width="2.4" fill="none" stroke="#fff"/>
<ellipse cx="621.0" cy="428.0" rx="10.6" ry="6.1" transform="rotate(16 621.0 428.0)" stroke-width="5.0" fill="#fff" />
<ellipse cx="621.0" cy="428.0" rx="10.6" ry="6.1" transform="rotate(16 621.0 428.0)" stroke-width="2.4" fill="none" stroke="#fff"/>
<clipPath id="c621"><ellipse cx="621.0" cy="428.0" rx="8.4" ry="3.9" transform="rotate(16 621.0 428.0)"/></clipPath>
<g clip-path="url(#c621)">
<ellipse cx="619.2" cy="432.4" rx="10.2" ry="5.9" transform="rotate(16 619.2 432.4)" stroke-width="4.0" fill="none" />
<ellipse cx="619.2" cy="432.4" rx="10.2" ry="5.9" transform="rotate(16 619.2 432.4)" stroke-width="1.44" fill="none" stroke="#fff"/>
</g>
<ellipse cx="631.8" cy="403.4" rx="7.3" ry="4.2" transform="rotate(12 631.8 403.4)" stroke-width="4.7" fill="#fff" />
<ellipse cx="631.8" cy="403.4" rx="7.3" ry="4.2" transform="rotate(12 631.8 403.4)" stroke-width="1.9" fill="none" stroke="#fff"/>
<ellipse cx="633.7" cy="398.5" rx="7.4" ry="4.2" transform="rotate(12 633.7 398.5)" stroke-width="4.7" fill="#fff" />
<ellipse cx="633.7" cy="398.5" rx="7.4" ry="4.2" transform="rotate(12 633.7 398.5)" stroke-width="1.9" fill="none" stroke="#fff"/>
<ellipse cx="635.5" cy="393.6" rx="7.4" ry="4.2" transform="rotate(12 635.5 393.6)" stroke-width="4.7" fill="#fff" />
<ellipse cx="635.5" cy="393.6" rx="7.4" ry="4.2" transform="rotate(12 635.5 393.6)" stroke-width="1.9" fill="none" stroke="#fff"/>
<ellipse cx="637.4" cy="388.7" rx="7.5" ry="4.3" transform="rotate(12 637.4 388.7)" stroke-width="4.7" fill="#fff" />
<ellipse cx="637.4" cy="388.7" rx="7.5" ry="4.3" transform="rotate(12 637.4 388.7)" stroke-width="1.9" fill="none" stroke="#fff"/>
<ellipse cx="639.2" cy="383.8" rx="7.5" ry="4.3" transform="rotate(12 639.2 383.8)" stroke-width="4.7" fill="#fff" />
<ellipse cx="639.2" cy="383.8" rx="7.5" ry="4.3" transform="rotate(12 639.2 383.8)" stroke-width="1.9" fill="none" stroke="#fff"/>
<ellipse cx="641.1" cy="378.9" rx="7.6" ry="4.3" transform="rotate(12 641.1 378.9)" stroke-width="4.7" fill="#fff" />
<ellipse cx="641.1" cy="378.9" rx="7.6" ry="4.3" transform="rotate(12 641.1 378.9)" stroke-width="1.9" fill="none" stroke="#fff"/>
<ellipse cx="643.0" cy="374.0" rx="7.7" ry="4.4" transform="rotate(12 643.0 374.0)" stroke-width="4.7" fill="#fff" />
<ellipse cx="643.0" cy="374.0" rx="7.7" ry="4.4" transform="rotate(12 643.0 374.0)" stroke-width="1.9" fill="none" stroke="#fff"/>
<ellipse cx="644.8" cy="369.1" rx="7.7" ry="4.4" transform="rotate(12 644.8 369.1)" stroke-width="4.7" fill="#fff" />
<ellipse cx="644.8" cy="369.1" rx="7.7" ry="4.4" transform="rotate(12 644.8 369.1)" stroke-width="1.9" fill="none" stroke="#fff"/>
<ellipse cx="646.7" cy="364.2" rx="7.8" ry="4.4" transform="rotate(12 646.7 364.2)" stroke-width="4.7" fill="#fff" />
<ellipse cx="646.7" cy="364.2" rx="7.8" ry="4.4" transform="rotate(12 646.7 364.2)" stroke-width="1.9" fill="none" stroke="#fff"/>
<clipPath id="c646"><ellipse cx="646.7" cy="364.2" rx="5.7" ry="2.4" transform="rotate(12 646.7 364.2)"/></clipPath>
<g clip-path="url(#c646)">
<ellipse cx="645.0" cy="368.6" rx="7.4" ry="4.2" transform="rotate(12 645.0 368.6)" stroke-width="3.7600000000000002" fill="none" />
<ellipse cx="645.0" cy="368.6" rx="7.4" ry="4.2" transform="rotate(12 645.0 368.6)" stroke-width="1.14" fill="none" stroke="#fff"/>
</g>
<path d="M 654.6 330.4 C 654.2 332.5 653.2 334.6 651.8 336.2 C 650 339 648.8 342 648.4 345.4 C 650 348.5 654 350.6 658.6 350.9 C 660.6 350.6 661.8 349.6 662.4 348.2 C 664 345.5 665 342.5 665.2 339 C 666.4 337 667.2 335.6 667.4 333.6 Z" stroke-width="1.5" fill="#fff" />
<ellipse cx="660.9" cy="331.3" rx="6.4" ry="3.5" transform="rotate(18 660.9 331.3)" stroke-width="1.4" fill="#fff" />
<ellipse cx="661.2" cy="331.2" rx="3.2" ry="1.4" transform="rotate(18 661.2 331.2)" stroke-width="1.6" fill="#000" />
<path d="M 652.2 336.6 C 655 339.6 660 341 665 339.4" stroke-width="1.1" fill="none" />
<path d="M 654.4 333.4 C 657 336.4 662.6 337.4 667 335.2" stroke-width="1.0" fill="none" />
<path d="M 651.4 340 C 653 341.6 654.6 342.2 656 342.4" stroke-width="1.0" fill="none" />
<path d="M 660 343.6 C 662 343.6 663.6 343 664.8 342" stroke-width="1.0" fill="none" />
<path d="M 657.6 306.5 C 658.5 313.0 662.0 318.5 666.5 320.8 L 672.5 321.3 C 678.0 320.0 681.5 316.0 682.8 313.5 Z" stroke-width="1.3" fill="#fff" />
<path d="M 665.5 320.6 L 673.5 321.4" stroke-width="2.2" fill="none" />
<ellipse cx="670.0" cy="311.8" rx="12.6" ry="7.6" transform="rotate(18 670.0 311.8)" stroke-width="1.2" fill="#fff" />
<ellipse cx="670.0" cy="309.6" rx="12.8" ry="7.8" transform="rotate(18 670.0 309.6)" stroke-width="1.4" fill="#fff" />
<ellipse cx="672.4" cy="308.9" rx="7.2" ry="4.5" transform="rotate(18 672.4 308.9)" stroke-width="2.2" fill="none" />
<path d="M 667.6 311.4 A 7.2 4.5 18 0 0 676 312.6" stroke-width="3.0" fill="none" />
<path d="M 667.8 276.4 C 669 274.6 672.4 274.4 674.6 275.4 C 676.6 276.2 677.8 277.2 677.9 278.2 L 674.8 286.7 L 671.6 285.6 L 672.6 280.4 L 668.6 280.6 L 667.0 286.4 L 665.4 286.2 Z" stroke-width="1.3" fill="#fff" />
<path d="M 669.8 277.8 C 672.2 276.6 675 277.2 676.8 278.8" stroke-width="1.3" fill="none" />
<path d="M 671.6 279.8 C 673.4 279.2 675.4 279.8 676.4 280.9" stroke-width="1.5" fill="none" />
<path d="M 671.6 282 C 673 281.5 674.8 282 675.7 283" stroke-width="1.5" fill="none" />
<path d="M 671.4 284.1 C 672.6 283.7 674.2 284.1 675 285" stroke-width="1.4" fill="none" />
<path d="M 668.6 280.6 L 668.8 277.4" stroke-width="1.0" fill="none" />
<path d="M 685 287.5 L 683.4 294.2 C 684.6 295.8 688 297 690.8 296.9 C 692.4 295.4 693.4 293 694 291.2 C 695 289.6 695.8 288 695.6 286.8 C 695.2 285.8 694.4 285.6 693.8 286 C 693 287.2 692.8 288.2 692.2 289.2 C 690 290.2 686.6 289.4 685 287.5 Z" stroke-width="1.4" fill="#fff" />
<line x1="684.7" y1="275.5" x2="680.0" y2="286.9" stroke-width="1.0" />
<line x1="677.2" y1="293.0" x2="671.0" y2="308.6" stroke-width="1.0" />
<line x1="666.0" y1="321.6" x2="662.6" y2="329.8" stroke-width="1.0" />
<line x1="652.8" y1="351.4" x2="648.3" y2="363.9" stroke-width="1.0" />
<line x1="629.4" y1="409.0" x2="621.6" y2="428.0" stroke-width="1.0" />
<line x1="600.9" y1="476.6" x2="597.6" y2="486.5" stroke-width="1.0" />
<ellipse cx="678.6" cy="290.2" rx="0.5" ry="0.5" transform="rotate(0 678.6 290.2)" stroke-width="0.8" fill="none" />
<line x1="262.2" y1="553.0" x2="296.6" y2="542.9" stroke-width="1.0" />
<line x1="298.5" y1="542.3" x2="306.0" y2="540.2" stroke-width="0.9" />
<line x1="500.7" y1="379.3" x2="504.4" y2="378.1" stroke-width="1.0" />
<line x1="517.0" y1="376.3" x2="525.0" y2="374.3" stroke-width="1.0" />
<ellipse cx="528.0" cy="373.7" rx="0.4" ry="0.4" transform="rotate(0 528.0 373.7)" stroke-width="0.8" fill="none" />
<line x1="531.0" y1="373.0" x2="537.6" y2="372.0" stroke-width="1.0" />
<line x1="565.3" y1="366.7" x2="576.0" y2="364.7" stroke-width="1.0" />
<line x1="614.0" y1="491.3" x2="622.0" y2="489.3" stroke-width="1.0" />
<line x1="623.0" y1="496.8" x2="627.0" y2="495.8" stroke-width="1.0" />
<line x1="665.3" y1="483.0" x2="668.6" y2="481.5" stroke-width="1.0" />
<ellipse cx="670.3" cy="480.7" rx="0.4" ry="0.4" transform="rotate(0 670.3 480.7)" stroke-width="0.8" fill="none" />
<line x1="671.8" y1="480.0" x2="675.4" y2="478.4" stroke-width="1.0" />
<line x1="682.7" y1="476.7" x2="684.8" y2="476.1" stroke-width="1.0" />
<line x1="695.6" y1="472.5" x2="698.6" y2="471.3" stroke-width="1.0" />
<path d="M 527.5 361.8 C 527.4 359.6 528.2 358 529.5 357 C 530.8 355.6 532.2 354.8 533.6 354.1 C 535.6 353.2 537.4 352.8 539.3 352.4 C 540.8 352 542 351.7 543.4 351.5 C 545 351.2 546.6 351.1 548 351.2 C 550.4 351.8 552.6 352.8 554.4 354.1 C 556.4 355.5 558 357 559.6 358.7 L 564.5 363.3 L 565.1 371.4 L 567.7 374.3 L 568.6 385.3 L 562.5 388.2 L 554.4 385.9 L 552.6 380.7 C 550.6 381.2 548.4 381 546.4 380.2 C 542.6 378.4 539.6 374.6 538.8 370 C 538.6 368.2 538.8 366.6 539.3 365.1 C 538.4 363.8 537.2 362.8 535.9 362.2 C 535 362.8 534.4 363.8 533.6 364.5 C 532.6 365.4 531.4 365.9 530.1 365.7 C 528.6 365.2 527.8 363.6 527.5 361.8 Z" stroke-width="1.5" fill="#fff" />
<ellipse cx="546.3" cy="370.8" rx="7.9" ry="9.6" transform="rotate(-8 546.3 370.8)" stroke-width="1.6" fill="#fff" />
<ellipse cx="546.0" cy="370.8" rx="5.8" ry="7.4" transform="rotate(-8 546.0 370.8)" stroke-width="0.7" fill="none" stroke="#555"/>
<ellipse cx="545.8" cy="370.8" rx="3.9" ry="5.2" transform="rotate(-8 545.8 370.8)" stroke-width="1.5" fill="none" />
<path d="M 550.6 366 C 551.8 368.6 551.8 373 550.2 376" stroke-width="1.3" fill="none" />
<path d="M 541.2 372.6 C 542 375.6 544 377.6 546.6 378" stroke-width="1.3" fill="none" />
<path d="M 540.5 353.5 L 543.4 360.6 M 544 352.4 L 546.4 359.8" stroke-width="1.0" fill="none" />
<ellipse cx="530.7" cy="361.0" rx="1.5" ry="1.9" transform="rotate(0 530.7 361.0)" stroke-width="1.1" fill="none" />
<path d="M 532.6 358.6 C 533.6 359.4 533.8 360.8 533.4 362" stroke-width="0.9" fill="none" />
<path d="M 553.6 361.6 C 555.6 362.8 557 364.6 557.6 366.6" stroke-width="0.9" fill="none" />
<path d="M 561.9 363.4 L 562.5 386" stroke-width="1.0" fill="none" />
<path d="M 556.6 373 L 561.8 372 M 559.4 375.4 L 562 377" stroke-width="1.1" fill="none" />
<path d="M 564.5 363.3 L 565.1 371.4 L 567.7 374.3" stroke-width="1.7" fill="none" />
<path d="M 553.2 383.4 L 562.4 386.4 L 568.4 383.6" stroke-width="1.0" fill="none" />
<path d="M 554.4 385.9 L 562.5 388.2 L 568.6 385.3" stroke-width="2.0" fill="none" />
<path d="M 627.2 470 C 630 468.2 633 466.9 636.5 466.2 C 639.4 465.7 642.4 465.6 645.2 465.9 C 648.2 466.6 651 467.8 653.3 469.3 L 658.9 470.6 C 660.6 472.2 661.8 474 662.7 476.2 L 665.2 483 L 663.9 486.1 C 661.4 488 658.6 489.4 655.8 490.5 C 653 491.4 650 492 647.1 492.4 L 640.9 493.9 C 639.6 494.6 638 494.9 636.5 494.8 C 634.4 494.6 632.4 493.8 630.9 492.4 L 628.4 491.7 L 622.8 491.1 L 620.7 488.9 L 622.8 482.4 L 625.3 478.7 L 627.5 477.4 Z" stroke-width="1.5" fill="#fff" />
<ellipse cx="635.4" cy="483.9" rx="6.7" ry="10.6" transform="rotate(-5 635.4 483.9)" stroke-width="1.4" fill="#fff" />
<ellipse cx="635.4" cy="484.3" rx="4.7" ry="6.8" transform="rotate(-5 635.4 484.3)" stroke-width="1.5" fill="none" />
<ellipse cx="635.3" cy="484.6" rx="3.0" ry="4.6" transform="rotate(-5 635.3 484.6)" stroke-width="1.0" fill="none" />
<path d="M 638.8 479.6 C 640 482.4 640 486.6 638.6 489.4" stroke-width="1.2" fill="none" />
<path d="M 633.2 482.6 L 636.6 483.2 M 633.4 486.8 L 636.4 487.2" stroke-width="0.8" fill="none" />
<path d="M 642.1 476.8 L 652.7 470.9 C 654.4 473.6 655.6 477 655.8 480.5" stroke-width="1.0" fill="none" />
<path d="M 652.7 470.9 L 653.3 469.3" stroke-width="0.9" fill="none" />
<path d="M 656.4 475 L 658.9 475.6 L 660.8 483.6 L 658.9 484.9 Z" stroke-width="1.0" fill="none" />
<path d="M 656.6 475.4 L 658.4 483.8" stroke-width="1.6" fill="none" />
<ellipse cx="652.4" cy="486.1" rx="2.8" ry="2.9" transform="rotate(0 652.4 486.1)" stroke-width="1.4" fill="#fff" />
<ellipse cx="652.2" cy="486.0" rx="1.2" ry="1.3" transform="rotate(0 652.2 486.0)" stroke-width="0.9" fill="none" />
<path d="M 642.1 484.9 L 649.6 485.8 M 643.4 489.4 L 650.4 488" stroke-width="1.0" fill="none" />
<path d="M 655.8 480.5 L 657 484.6 L 663.9 486.1" stroke-width="1.0" fill="none" />
<path d="M 627.5 477.4 L 627.2 470 M 622.8 482.4 L 628.2 483 M 620.7 488.9 C 623 488 626 487.8 628.6 488.4" stroke-width="1.0" fill="none" />
<path d="M 630.9 492.4 C 632.4 493.8 634.4 494.6 636.5 494.8 C 638 494.9 639.6 494.6 640.9 493.9" stroke-width="2.0" fill="none" />
<path d="M 655.8 490.5 C 658.6 489.4 661.4 488 663.9 486.1" stroke-width="1.9" fill="none" />
<path d="M 543.1 316.4 L 551.4 315.1 L 561.7 319 C 562.2 321 562.5 323 562.7 324.7 C 563.8 327 564.4 329 564.6 331 L 564.6 340.3 L 562.2 340.6 C 560.8 339.6 559.9 338.4 559.7 337.4 L 559.7 331.5 C 559.2 329.4 558.4 327.8 557.3 326.6 C 556 325.6 554.6 325.4 553.4 325.6 C 552 326.6 550.8 329 550.4 331.5 L 550.4 337.4 L 550 343.7 L 547 346.2 L 544.6 342.3 L 544.1 337.9 L 546 334.4 L 543.1 330.5 C 542.4 329.6 541.6 329.2 540.7 329.1 C 539.2 329.4 538 330 537.2 331 L 536.5 335.4 L 535.8 339.3 C 534.6 340.4 533.4 340.6 532.4 340.3 L 532.1 337.4 L 533.3 329.6 C 534 328.4 534.8 327.4 535.8 326.6 L 542.1 323 L 542.6 320.3 Z" stroke-width="1.4" fill="#fff" />
<path d="M 542.6 320.3 L 551.4 320.6 L 561.7 319 M 551.4 320.6 L 551.4 324.7" stroke-width="1.1" fill="none" />
<path d="M 546 316.6 L 549.6 318.6" stroke-width="1.3" fill="none" />
<path d="M 541 326.6 L 544 328.4" stroke-width="2.6" fill="none" />
<path d="M 551.6 321.4 L 554 322.4" stroke-width="2.0" fill="none" />
<path d="M 547.6 328 L 548.4 332 M 549.4 334 L 549.6 337" stroke-width="1.6" fill="none" />
<path d="M 561 322 C 561.8 326 562.4 330 562.4 337" stroke-width="0.9" fill="none" />
<path d="M 589.1 352.4 L 596.9 355.3 L 596.2 365.2 L 593.4 365.9 L 586.2 370.9 L 582.7 368.8 L 579.7 362.7 L 580.2 353.1 Z" stroke-width="1.5" fill="#fff" />
<path d="M 580.2 353.1 C 583 352.4 586 352.2 589.1 352.4 L 595.1 356.7 L 593.4 365.9 L 586.2 370.9 L 582.7 368.8 L 579.7 362.7 Z" stroke-width="1.4" fill="#fff" />
<path d="M 590.6 353.2 L 596 357 M 595.6 358.4 L 594.8 365" stroke-width="1.8" fill="none" />
<path d="M 582.4 360.6 C 582.8 358.4 584.6 357.2 586.2 357.4 C 587.8 357.6 589 358.8 589.2 360.2" stroke-width="1.3" fill="none" />
<path d="M 583.4 365.6 C 584.8 367 587 366.8 588.4 365.2" stroke-width="1.4" fill="none" />
<path d="M 587.6 363 L 588 365 M 589.4 362.4 L 589.6 364.6" stroke-width="0.9" fill="none" />
<g transform="translate(506.8 377.7) rotate(-14)">
<path d="M 0 -3.6 L 8.4 -3.6 A 1.8 3.6 0 0 1 8.4 3.6 L 0 3.6 Z" stroke-width="1.3" fill="#fff" />
<path d="M 3.2 -3.5 A 1.6 3.5 0 0 1 3.2 3.5" stroke-width="1.1" fill="none" />
<path d="M 4.8 -3.5 A 1.6 3.5 0 0 1 4.8 3.5" stroke-width="1.1" fill="none" />
<path d="M 6.4 -3.5 A 1.6 3.5 0 0 1 6.4 3.5" stroke-width="1.1" fill="none" />
<path d="M 8.0 -3.5 A 1.6 3.5 0 0 1 8.0 3.5" stroke-width="1.1" fill="none" />
<path d="M 0.6 3.5 L 8.4 3.5" stroke-width="1.8" fill="none" />
<ellipse cx="0" cy="0" rx="2.1" ry="3.6" stroke-width="1.2" fill="#fff"/>
</g>
<g transform="translate(605.0 504.7) rotate(-19.5) scale(0.94)">
<path d="M 3 -2.1 L 19.6 -2.1 L 19.6 2.1 L 3 2.1 Z" stroke-width="1.2" fill="#fff" />
<line x1="12.0" y1="-2.0" x2="12.5" y2="2.0" stroke-width="1.0" />
<line x1="13.6" y1="-2.0" x2="14.1" y2="2.0" stroke-width="1.0" />
<line x1="15.2" y1="-2.0" x2="15.7" y2="2.0" stroke-width="1.0" />
<line x1="16.8" y1="-2.0" x2="17.3" y2="2.0" stroke-width="1.0" />
<line x1="18.4" y1="-2.0" x2="18.9" y2="2.0" stroke-width="1.0" />
<path d="M -3.6 -3.9 L 2.6 -3.9 L 4 -2 L 4 2.2 L 2.6 4 L -3.6 4 Z" stroke-width="1.3" fill="#fff" />
<ellipse cx="-3.4" cy="0" rx="2.2" ry="4" stroke-width="1.3" fill="#fff"/>
<line x1="-2.0" y1="-1.4" x2="3.8" y2="-1.4" stroke-width="0.9" />
<line x1="-2.0" y1="1.6" x2="3.8" y2="1.6" stroke-width="0.9" />
</g>
<ellipse cx="661.6" cy="497.4" rx="4.6" ry="4.8" transform="rotate(-15 661.6 497.4)" stroke-width="1.4" fill="#fff" />
<ellipse cx="661.0" cy="497.3" rx="2.5" ry="2.7" transform="rotate(-15 661.0 497.3)" stroke-width="1.0" fill="none" />
<ellipse cx="660.9" cy="497.3" rx="0.8" ry="0.9" transform="rotate(0 660.9 497.3)" stroke-width="0.9" fill="none" />
<path d="M 665.5 498.1 A 4.2 4.2 0 0 1 661.1 501.4" stroke-width="1.9" fill="none" />
<path d="M 658.1 495.2 L 660.1 493.2" stroke-width="1.5" fill="none" />
<path d="M 663.8 494.0 L 664.1 497.9" stroke-width="0.8" fill="none" />
<ellipse cx="678.9" cy="477.9" rx="3.5" ry="4.3" transform="rotate(-10 678.9 477.9)" stroke-width="1.6" fill="#fff" />
<ellipse cx="678.3" cy="477.6" rx="1.0" ry="1.2" transform="rotate(-10 678.3 477.6)" stroke-width="1.0" fill="none" />
<path d="M 679.8 481.4 A 3.5 4.3 -10 0 0 682.2 478.6" stroke-width="2.0" fill="none" />
<ellipse cx="690.2" cy="474.0" rx="4.9" ry="5.1" transform="rotate(-15 690.2 474.0)" stroke-width="1.4" fill="#fff" />
<ellipse cx="689.6" cy="473.9" rx="2.6" ry="2.9" transform="rotate(-15 689.6 473.9)" stroke-width="1.0" fill="none" />
<ellipse cx="689.5" cy="473.9" rx="0.8" ry="0.9" transform="rotate(0 689.5 473.9)" stroke-width="0.9" fill="none" />
<path d="M 694.4 474.8 A 4.4 4.4 0 0 1 689.7 478.3" stroke-width="1.9" fill="none" />
<path d="M 686.5 471.7 L 688.6 469.5" stroke-width="1.5" fill="none" />
<path d="M 692.5 470.4 L 692.8 474.5" stroke-width="0.8" fill="none" />
<g transform="translate(270.4 542.6) rotate(-15)">
<path d="M 0 -2.5 L 8.8 -2.5 A 1.6 2.5 0 0 1 8.8 2.5 L 0 2.5 Z" stroke-width="1.2" fill="#fff" />
<ellipse cx="0" cy="0" rx="1.6" ry="2.5" stroke-width="1.2" fill="#fff"/>
<line x1="0.5" y1="2.5" x2="8.8" y2="2.5" stroke-width="1.6" />
</g>
<path d="M 242.4 608.4 L 246.2 605.6 C 246.6 604.2 247.6 603.6 248.6 603.8 C 250 604 250.6 605 250.6 606 L 251.8 610.2 L 261.2 614 L 262.8 612.6 C 263 611.2 264 610.6 265 610.8 C 266.2 611 266.8 612 266.8 613 L 267.8 618.4 L 272.8 620.6 L 272.2 624.8 L 269.2 624.9 L 242.4 612 Z" stroke-width="1.3" fill="#fff" />
<path d="M 242.4 608.4 L 269.6 621.4 L 272.8 620.6 M 269.6 621.4 L 269.2 624.9" stroke-width="1.0" fill="none" />
<path d="M 248 606.6 L 248.4 610.6 M 264.6 613.4 L 265 618" stroke-width="0.9" fill="none" />
<path d="M 251.8 610.2 L 261.2 614" stroke-width="1.8" fill="none" />
<text x="329.8" y="390.4" text-anchor="middle" letter-spacing="0" stroke="none">4</text>
<text x="331.0" y="460.5" text-anchor="middle" letter-spacing="0" stroke="none">3</text>
<text x="330.2" y="509.3" text-anchor="middle" letter-spacing="0" stroke="none">1</text>
<text x="333.3" y="567.5" text-anchor="middle" letter-spacing="0" stroke="none">4</text>
<text x="276.0" y="523.3" text-anchor="middle" letter-spacing="0" stroke="none">2</text>
<text x="508.4" y="403.7" text-anchor="middle" letter-spacing="0" stroke="none">5</text>
<text x="543.0" y="403.7" text-anchor="middle" letter-spacing="0" stroke="none">7</text>
<text x="587.2" y="403.7" text-anchor="middle" letter-spacing="-1.1" stroke="none">13</text>
<text x="509.4" y="333.8" text-anchor="middle" letter-spacing="-1.1" stroke="none">12</text>
<text x="610.5" y="285.2" text-anchor="middle" letter-spacing="-1.1" stroke="none">21</text>
<text x="611.1" y="311.2" text-anchor="middle" letter-spacing="-1.1" stroke="none">20</text>
<text x="611.1" y="343.8" text-anchor="middle" letter-spacing="-1.1" stroke="none">19</text>
<text x="611.1" y="379.8" text-anchor="middle" letter-spacing="-1.1" stroke="none">18</text>
<text x="710.1" y="296.5" text-anchor="middle" letter-spacing="-1.1" stroke="none">21</text>
<text x="562.4" y="465.8" text-anchor="middle" letter-spacing="-1.1" stroke="none">17</text>
<text x="562.4" y="487.8" text-anchor="middle" letter-spacing="-1.1" stroke="none">16</text>
<text x="614.4" y="523.8" text-anchor="middle" letter-spacing="0" stroke="none">8</text>
<text x="637.7" y="523.8" text-anchor="middle" letter-spacing="0" stroke="none">7</text>
<text x="660.6" y="523.8" text-anchor="middle" letter-spacing="0" stroke="none">9</text>
<text x="679.1" y="523.8" text-anchor="middle" letter-spacing="-1.1" stroke="none">10</text>
<text x="692.8" y="523.8" text-anchor="middle" letter-spacing="-1.1" stroke="none">11</text>
<text x="439.9" y="613.9" text-anchor="middle" letter-spacing="-1.1" stroke="none">15</text>
<text x="585.9" y="614.1" text-anchor="middle" letter-spacing="-1.1" stroke="none">14</text>
<text x="229.2" y="623.2" text-anchor="middle" letter-spacing="0" stroke="none">6</text>
<line x1="330.3" y1="396.0" x2="330.3" y2="402.7" stroke-width="1.0" stroke="#222"/>
<line x1="330.0" y1="466.2" x2="330.0" y2="472.9" stroke-width="1.0" stroke="#222"/>
<line x1="330.0" y1="514.7" x2="330.0" y2="521.0" stroke-width="1.0" stroke="#222"/>
<line x1="333.3" y1="571.5" x2="333.3" y2="577.8" stroke-width="1.0" stroke="#222"/>
<line x1="276.0" y1="528.0" x2="276.0" y2="535.0" stroke-width="1.0" stroke="#222"/>
<line x1="508.7" y1="384.0" x2="508.7" y2="391.3" stroke-width="1.0" stroke="#222"/>
<line x1="542.5" y1="382.7" x2="542.5" y2="389.7" stroke-width="1.0" stroke="#222"/>
<line x1="586.3" y1="372.0" x2="586.3" y2="392.0" stroke-width="1.0" stroke="#222"/>
<line x1="517.3" y1="329.0" x2="529.6" y2="329.0" stroke-width="1.0" stroke="#222"/>
<line x1="618.7" y1="281.0" x2="662.0" y2="281.0" stroke-width="1.0" stroke="#222"/>
<line x1="620.0" y1="306.7" x2="654.0" y2="306.7" stroke-width="1.0" stroke="#222"/>
<line x1="618.7" y1="339.6" x2="646.0" y2="339.6" stroke-width="1.0" stroke="#222"/>
<line x1="619.3" y1="376.0" x2="628.7" y2="376.0" stroke-width="1.0" stroke="#222"/>
<line x1="697.3" y1="292.4" x2="702.7" y2="292.4" stroke-width="1.0" stroke="#222"/>
<line x1="571.3" y1="462.3" x2="590.7" y2="462.3" stroke-width="1.0" stroke="#222"/>
<line x1="571.3" y1="484.0" x2="581.3" y2="484.0" stroke-width="1.0" stroke="#222"/>
<line x1="614.7" y1="505.3" x2="614.7" y2="510.0" stroke-width="1.0" stroke="#222"/>
<line x1="637.8" y1="495.5" x2="637.8" y2="511.0" stroke-width="1.0" stroke="#222"/>
<line x1="660.5" y1="504.4" x2="660.5" y2="510.5" stroke-width="1.0" stroke="#222"/>
<line x1="680.0" y1="485.0" x2="680.0" y2="511.0" stroke-width="1.0" stroke="#222"/>
<line x1="691.4" y1="481.7" x2="691.4" y2="511.0" stroke-width="1.0" stroke="#222"/>
<line x1="448.9" y1="609.3" x2="463.3" y2="609.3" stroke-width="1.0" stroke="#222"/>
<line x1="565.5" y1="609.3" x2="577.0" y2="609.3" stroke-width="1.0" stroke="#222"/>
<line x1="235.2" y1="619.5" x2="248.5" y2="619.5" stroke-width="1.0" stroke="#222"/>
<text x="659.2" y="624.6" textLength="35" lengthAdjust="spacingAndGlyphs" stroke="none" style="font-size:9.6px;font-weight:normal;fill:#3a3a3a">00000630</text>
</svg>
</body></html>
